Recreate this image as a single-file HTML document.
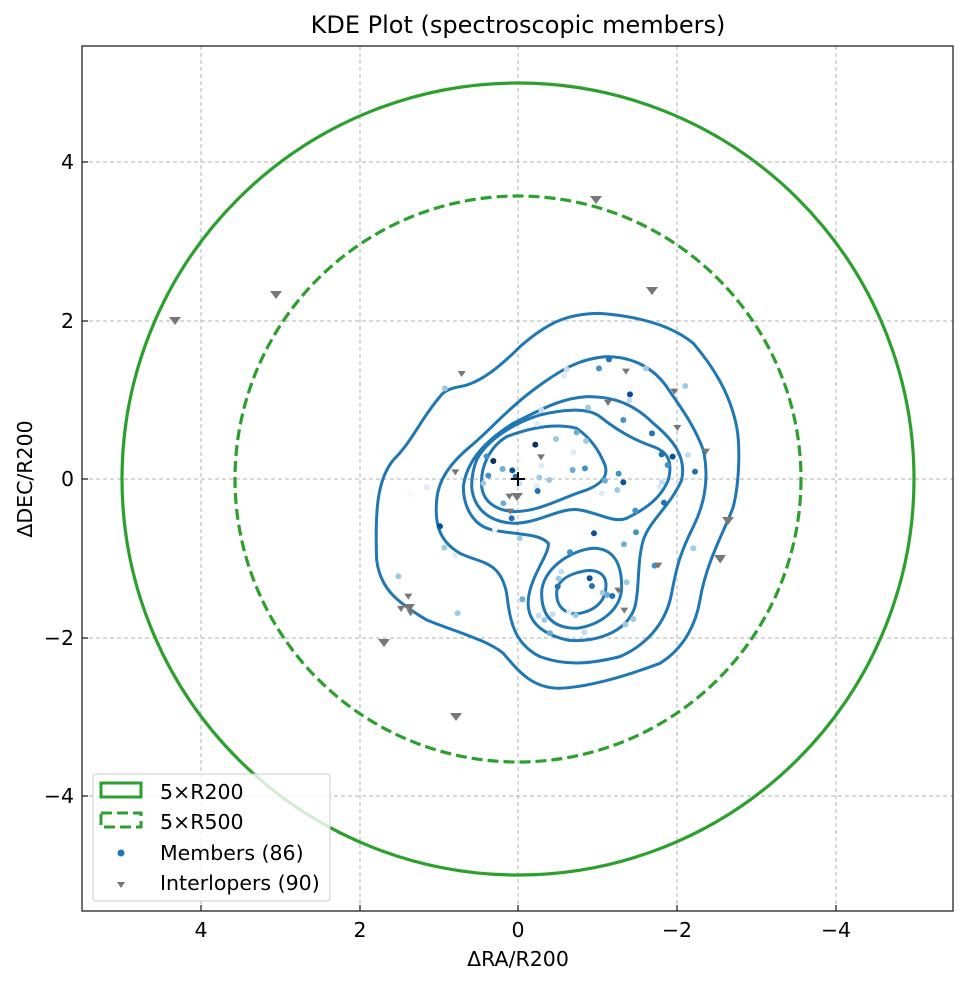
<!DOCTYPE html>
<html><head><meta charset="utf-8"><style>
body{margin:0;background:#fff;}
svg text{font-family:"DejaVu Sans","Liberation Sans",sans-serif;fill:#000;}
</style></head><body>
<svg width="969" height="984" xmlns="http://www.w3.org/2000/svg">
<rect width="969" height="984" fill="#fff"/>
<defs><clipPath id="c"><rect x="82" y="46" width="871" height="865"/></clipPath></defs>
<g stroke="#b0b0b0" stroke-width="1" stroke-dasharray="4,3" fill="none">
<line x1="201" y1="46" x2="201" y2="911"/><line x1="360" y1="46" x2="360" y2="911"/><line x1="518" y1="46" x2="518" y2="911"/><line x1="677" y1="46" x2="677" y2="911"/><line x1="836" y1="46" x2="836" y2="911"/>
<line x1="82" y1="162" x2="953" y2="162"/><line x1="82" y1="321" x2="953" y2="321"/><line x1="82" y1="479" x2="953" y2="479"/><line x1="82" y1="638" x2="953" y2="638"/><line x1="82" y1="796" x2="953" y2="796"/>
</g>
<g clip-path="url(#c)">
<circle cx="518" cy="479" r="396" fill="none" stroke="#2ca02c" stroke-width="3.2"/>
<circle cx="518" cy="479" r="283" fill="none" stroke="#2ca02c" stroke-width="3.2" stroke-dasharray="11,5"/>
<g transform="translate(360,300) scale(0.3333)" fill="none" stroke="#1f77b4" stroke-width="9">
<path d="M240,290 C180,360 160,420 100,480 C50,540 45,640 50,780 C60,860 100,900 200,960 C300,1000 380,1020 430,1060 C480,1120 520,1165 600,1165 C700,1160 820,1120 900,1090 C980,1040 1010,960 1020,900 C1040,780 1100,680 1120,620 C1140,540 1140,430 1130,380 C1110,280 1060,200 1000,130 C940,80 850,50 720,40 C620,40 560,70 480,140 C420,200 360,250 300,260 C270,265 250,275 240,290Z"/>
<path d="M230,600 C225,660 230,720 300,760 C360,790 420,780 440,880 C450,960 460,1030 540,1070 C620,1100 700,1090 780,1070 C870,1030 920,960 935,880 C950,800 960,760 1000,680 C1040,600 1045,520 1030,450 C1000,370 960,320 920,260 C870,190 800,170 740,170 C660,175 600,210 520,270 C440,330 380,400 330,440 C270,490 235,540 230,600Z"/>
<path d="M310,560 C310,620 340,680 400,690 C470,705 540,700 565,730 C570,760 510,830 505,900 C500,960 540,1000 620,1020 C700,1030 800,1000 825,920 C840,860 830,790 850,720 C870,660 930,620 965,540 C980,470 940,420 880,370 C820,310 760,290 680,290 C600,295 540,330 460,370 C380,420 320,480 310,560Z"/>
<path d="M335,560 C340,620 380,665 460,670 C540,670 600,620 660,630 C720,640 760,670 800,655 C850,630 900,600 925,540 C940,480 920,455 880,440 C820,420 770,390 720,350 C680,320 600,330 540,345 C460,370 380,420 350,480 C338,510 335,540 335,560Z"/>
<path d="M365,560 C370,600 400,630 460,635 C540,635 600,595 680,570 C730,550 745,525 735,495 C720,460 700,420 650,385 C590,370 520,380 440,410 C390,440 360,500 365,560Z"/>
<path d="M545,880 C545,950 580,985 650,985 C720,975 785,930 785,860 C785,790 760,745 700,745 C630,750 545,810 545,880Z"/>
<path d="M590,880 C590,925 620,945 660,940 C710,930 740,900 738,850 C735,820 710,810 680,812 C630,820 590,840 590,880Z"/>
</g>
<g transform="translate(360,300) scale(0.3333)">
<g fill="#6baed6"><circle cx="255" cy="265" r="9" fill="#9ecae1"/><circle cx="620" cy="208" r="9" fill="#c6dbef"/><circle cx="612" cy="228" r="9" fill="#deebf7"/><circle cx="717" cy="205" r="9" fill="#4292c6"/><circle cx="747" cy="178" r="9" fill="#2171b5"/><circle cx="858" cy="205" r="9" fill="#9ecae1"/><circle cx="976" cy="258" r="9" fill="#9ecae1"/><circle cx="810" cy="283" r="9" fill="#08519c"/><circle cx="808" cy="302" r="9" fill="#c6dbef"/><circle cx="684" cy="323" r="9" fill="#9ecae1"/><circle cx="544" cy="330" r="9" fill="#c6dbef"/><circle cx="790" cy="360" r="9" fill="#4292c6"/><circle cx="532" cy="372" r="9" fill="#deebf7"/><circle cx="876" cy="400" r="9" fill="#2171b5"/><circle cx="650" cy="397" r="9" fill="#6baed6"/><circle cx="588" cy="417" r="9" fill="#9ecae1"/><circle cx="678" cy="423" r="9" fill="#9ecae1"/><circle cx="526" cy="434" r="9" fill="#08306b"/><circle cx="640" cy="457" r="9" fill="#deebf7"/><circle cx="482" cy="473" r="9" fill="#f7fbff"/><circle cx="400" cy="483" r="9" fill="#08306b"/><circle cx="380" cy="469" r="9" fill="#4292c6"/><circle cx="905" cy="463" r="9" fill="#2171b5"/><circle cx="938" cy="470" r="9" fill="#08519c"/><circle cx="984" cy="465" r="9" fill="#c6dbef"/><circle cx="923" cy="495" r="9" fill="#4292c6"/><circle cx="545" cy="497" r="9" fill="#deebf7"/><circle cx="638" cy="510" r="9" fill="#6baed6"/><circle cx="675" cy="505" r="9" fill="#4292c6"/><circle cx="428" cy="507" r="9" fill="#6baed6"/><circle cx="457" cy="511" r="9" fill="#08519c"/><circle cx="385" cy="527" r="9" fill="#4292c6"/><circle cx="467" cy="530" r="9" fill="#2171b5"/><circle cx="538" cy="533" r="9" fill="#9ecae1"/><circle cx="568" cy="540" r="9" fill="#9ecae1"/><circle cx="776" cy="521" r="9" fill="#4292c6"/><circle cx="1005" cy="515" r="9" fill="#2171b5"/><circle cx="735" cy="542" r="9" fill="#6baed6"/><circle cx="790" cy="547" r="9" fill="#08519c"/><circle cx="906" cy="547" r="9" fill="#c6dbef"/><circle cx="898" cy="560" r="9" fill="#deebf7"/><circle cx="370" cy="550" r="9" fill="#9ecae1"/><circle cx="478" cy="550" r="9" fill="#c6dbef"/><circle cx="530" cy="558" r="9" fill="#deebf7"/><circle cx="533" cy="573" r="9" fill="#2171b5"/><circle cx="772" cy="570" r="9" fill="#9ecae1"/><circle cx="726" cy="580" r="9" fill="#deebf7"/><circle cx="200" cy="562" r="9" fill="#deebf7"/><circle cx="148" cy="585" r="9" fill="#f7fbff"/><circle cx="430" cy="610" r="9" fill="#6baed6"/><circle cx="912" cy="608" r="9" fill="#2171b5"/><circle cx="826" cy="632" r="9" fill="#4292c6"/><circle cx="455" cy="655" r="9" fill="#2171b5"/><circle cx="240" cy="679" r="9" fill="#08519c"/><circle cx="405" cy="687" r="9" fill="#f7fbff"/><circle cx="702" cy="700" r="9" fill="#08519c"/><circle cx="828" cy="697" r="9" fill="#4292c6"/><circle cx="479" cy="715" r="9" fill="#9ecae1"/><circle cx="792" cy="733" r="9" fill="#6baed6"/><circle cx="1000" cy="745" r="9" fill="#9ecae1"/><circle cx="253" cy="743" r="9" fill="#9ecae1"/><circle cx="285" cy="766" r="9" fill="#deebf7"/><circle cx="630" cy="757" r="9" fill="#4292c6"/><circle cx="884" cy="797" r="9" fill="#4292c6"/><circle cx="115" cy="829" r="9" fill="#9ecae1"/><circle cx="604" cy="815" r="9" fill="#c6dbef"/><circle cx="596" cy="836" r="9" fill="#9ecae1"/><circle cx="689" cy="835" r="9" fill="#08519c"/><circle cx="696" cy="858" r="9" fill="#2171b5"/><circle cx="593" cy="860" r="9" fill="#2171b5"/><circle cx="800" cy="847" r="9" fill="#9ecae1"/><circle cx="728" cy="878" r="9" fill="#9ecae1"/><circle cx="742" cy="885" r="9" fill="#6baed6"/><circle cx="757" cy="888" r="9" fill="#2171b5"/><circle cx="487" cy="898" r="9" fill="#6baed6"/><circle cx="293" cy="940" r="9" fill="#9ecae1"/><circle cx="536" cy="947" r="9" fill="#c6dbef"/><circle cx="578" cy="943" r="9" fill="#c6dbef"/><circle cx="647" cy="946" r="9" fill="#9ecae1"/><circle cx="553" cy="960" r="9" fill="#9ecae1"/><circle cx="820" cy="957" r="9" fill="#9ecae1"/><circle cx="796" cy="974" r="9" fill="#9ecae1"/><circle cx="570" cy="1000" r="9" fill="#6baed6"/><circle cx="673" cy="997" r="9" fill="#c6dbef"/><circle cx="628" cy="935" r="9" fill="#deebf7"/></g>
<g fill="#777"><path d="M293,213h24l-12,18z"/><path d="M531,463h24l-12,18z"/><path d="M786,206h24l-12,18z"/><path d="M931,266h24l-12,18z"/><path d="M732,300h24l-12,18z"/><path d="M940,375h24l-12,18z"/><path d="M274,508h24l-12,18z"/><path d="M436,581h24l-12,18z"/><path d="M439,626h24l-12,18z"/><path d="M1026,446h24l-12,18z"/><path d="M1093,655h24l-12,18z"/><path d="M1070,771h24l-12,18z"/><path d="M883,788h24l-12,18z"/><path d="M763,863h24l-12,18z"/><path d="M781,923h24l-12,18z"/><path d="M133,881h24l-12,18z"/><path d="M111,918h24l-12,18z"/><path d="M140,931h24l-12,18z"/><path d="M60,1023h24l-12,18z"/></g>
</g>
<g fill="#777"><path d="M270,291h12l-6,8z"/><path d="M169,317h12l-6,8z"/><path d="M590,196h12l-6,8z"/><path d="M646,287h12l-6,8z"/><path d="M450,713h12l-6,8z"/><path d="M714,555h12l-6,8z"/><path d="M722,517h12l-6,8z"/><path d="M378,639h12l-6,8z"/><path d="M403,604h12l-6,8z"/><path d="M511,493h12l-6,8z"/></g>
<circle cx="409" cy="493" r="3" fill="#f7fbff"/>
<path d="M511,479h14M518,472v14" stroke="#000" stroke-width="2"/>
</g>
<rect x="82" y="46" width="871" height="865" fill="none" stroke="#222" stroke-width="1.3"/>
<g stroke="#222" stroke-width="1.3">
<line x1="201" y1="911" x2="201" y2="905"/><line x1="360" y1="911" x2="360" y2="905"/><line x1="518" y1="911" x2="518" y2="905"/><line x1="677" y1="911" x2="677" y2="905"/><line x1="836" y1="911" x2="836" y2="905"/>
<line x1="82" y1="162" x2="88" y2="162"/><line x1="82" y1="321" x2="88" y2="321"/><line x1="82" y1="479" x2="88" y2="479"/><line x1="82" y1="638" x2="88" y2="638"/><line x1="82" y1="796" x2="88" y2="796"/>
</g>
<g font-size="20.5" text-anchor="middle">
<text x="201" y="937">4</text><text x="360" y="937">2</text><text x="518" y="937">0</text><text x="677" y="937">−2</text><text x="836" y="937">−4</text>
<text x="518" y="966">ΔRA/R200</text>
<text x="518" y="33" font-size="24">KDE Plot (spectroscopic members)</text>
</g>
<g font-size="20.5" text-anchor="end">
<text x="74" y="169">4</text><text x="74" y="328">2</text><text x="74" y="486">0</text><text x="74" y="645">−2</text><text x="74" y="803">−4</text>
</g>
<text transform="translate(32,479) rotate(-90)" font-size="20.5" text-anchor="middle">ΔDEC/R200</text>
<rect x="93" y="774" width="237" height="127" rx="3" fill="#fff" fill-opacity="0.8" stroke="#ccc"/>
<rect x="101" y="783" width="40" height="14" fill="none" stroke="#2ca02c" stroke-width="3"/>
<rect x="101" y="813" width="40" height="14" fill="none" stroke="#2ca02c" stroke-width="3" stroke-dasharray="11,5"/>
<circle cx="121" cy="853" r="3.5" fill="#1f77b4"/>
<path d="M117,882h8l-4,6z" fill="#777"/>
<g font-size="20.5"><text x="160" y="799">5×R200</text><text x="160" y="829">5×R500</text><text x="160" y="860">Members (86)</text><text x="160" y="890">Interlopers (90)</text></g>
</svg>
</body></html>
